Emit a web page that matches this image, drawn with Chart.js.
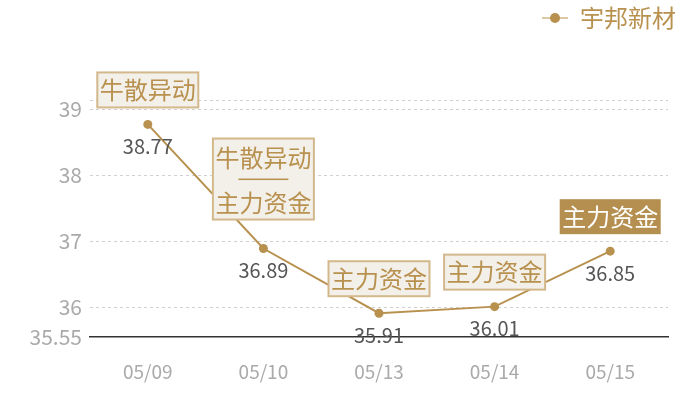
<!DOCTYPE html>
<html>
<head>
<meta charset="utf-8">
<script src="https://cdn.jsdelivr.net/npm/chart.js@4/dist/chart.umd.min.js"></script>
<style>
  html, body { margin: 0; padding: 0; background: #fff; }
  #wrap { width: 700px; height: 400px; }
</style>
</head>
<body>
<div id="wrap"><canvas id="priceChart"></canvas></div>
<script>
// Data
const dates = ["05/09", "05/10", "05/13", "05/14", "05/15"];
const prices = [38.77, 36.89, 35.91, 36.01, 36.85];
const tags = [["牛散异动"], ["牛散异动", "主力资金"], ["主力资金"], ["主力资金"], ["主力资金"]];
const tagHighlight = [false, false, false, false, true];
const yTicks = [35.55, 36, 37, 38, 39];
const yMin = 35.55;
const yMax = 39.14;

const GOLD = "#b8914f";
const FONT = "'Noto Sans CJK SC', 'Noto Sans', sans-serif";

// Legend marker: line with a dot
function legendMarker() {
    const c = document.createElement("canvas");
    c.width = 26; c.height = 12;
    const g = c.getContext("2d");
    g.strokeStyle = "#dcc8a3";
    g.lineWidth = 2;
    g.beginPath(); g.moveTo(0, 6); g.lineTo(26, 6); g.stroke();
    g.fillStyle = GOLD;
    g.beginPath(); g.arc(13, 6, 5, 0, Math.PI * 2); g.fill();
    return c;
}

// Draws value labels under points and tag boxes above them
const tagPlugin = {
    id: "tags",
    afterInit(chart) {
        const fit = chart.legend.fit;
        chart.legend.fit = function () {
            fit.call(this);
            this.height = 100;
        };
    },
    afterLayout(chart) {
        // push legend a bit further right than the plot area
        chart.legend.left += 14;
        chart.legend.right += 14;
    },
    afterDatasetsDraw(chart) {
        const ctx = chart.ctx;
        const pts = chart.getDatasetMeta(0).data;
        ctx.save();
        ctx.textAlign = "center";
        ctx.textBaseline = "middle";

        pts.forEach((p, i) => {
            // value
            ctx.font = "20px " + FONT;
            ctx.fillStyle = "#555";
            ctx.fillText(prices[i].toFixed(2), p.x, p.y + 22);

            // tag box
            const lines = tags[i];
            ctx.font = "24px " + FONT;
            const w = Math.max(...lines.map(t => ctx.measureText(t).width)) + 5;
            const h = lines.length === 1 ? 35 : 81;
            const gap = lines.length === 1 ? 17 : 29;
            const x0 = p.x - w / 2;
            const y0 = p.y - gap - h;
            if (tagHighlight[i]) {
                ctx.fillStyle = "#b58f50";
                ctx.fillRect(x0, y0, w, h);
                ctx.fillStyle = "#fff";
            } else {
                ctx.fillStyle = "#f3efe9";
                ctx.fillRect(x0, y0, w, h);
                ctx.strokeStyle = "#d3b88c";
                ctx.lineWidth = 2;
                ctx.strokeRect(x0, y0, w, h);
                ctx.fillStyle = GOLD;
            }
            if (lines.length === 1) {
                ctx.fillText(lines[0], p.x, y0 + h / 2);
            } else {
                ctx.fillText(lines[0], p.x, y0 + 19);
                ctx.fillRect(p.x - 25, y0 + 40, 50, 1.5);
                ctx.fillText(lines[1], p.x, y0 + 64);
            }
        });
        ctx.restore();
    }
};

new Chart(document.getElementById("priceChart"), {
    type: "line",
    data: {
        labels: dates,
        datasets: [{
            label: "宇邦新材",
            data: prices,
            borderColor: GOLD,
            backgroundColor: GOLD,
            borderWidth: 2,
            pointRadius: 4.5,
            pointBackgroundColor: GOLD,
            pointBorderWidth: 0,
            tension: 0,
            pointStyle: "circle"
        }]
    },
    options: {
        responsive: true,
        maintainAspectRatio: false,
        animation: false,
        layout: { padding: { left: 0, right: 32, top: 0, bottom: 17 } },
        plugins: {
            legend: {
                position: "top",
                align: "end",
                labels: {
                    usePointStyle: true,
                    pointStyle: legendMarker(),
                    pointStyleWidth: 26,
                    padding: 6,
                    color: GOLD,
                    font: { family: FONT, size: 24 }
                }
            },
            tooltip: { enabled: false }
        },
        scales: {
            x: {
                offset: true,
                afterFit(scale) { scale.height = 46; },
                grid: { display: false, drawTicks: false },
                border: { display: true, color: "#333", width: 1.5 },
                ticks: {
                    color: "#aaa",
                    padding: 23,
                    font: { family: FONT, size: 19 }
                }
            },
            y: {
                min: yMin,
                max: yMax,
                afterBuildTicks(scale) {
                    scale.ticks = yTicks.concat([yMax]).map(v => ({ value: v }));
                },
                afterFit(scale) { scale.width = 90; },
                grid: {
                    drawTicks: false,
                    color: c => (c.tick && c.tick.value === yMin) ? "rgba(0,0,0,0)" : "#d0d0d0",
                    lineWidth: 1
                },
                border: { display: false, dash: [3, 3] },
                ticks: {
                    color: "#aaa",
                    padding: 8,
                    font: { family: FONT, size: 21 },
                    callback: v => yTicks.includes(v) ? String(v) : ""
                }
            }
        }
    },
    plugins: [tagPlugin]
});
</script>
</body>
</html>
